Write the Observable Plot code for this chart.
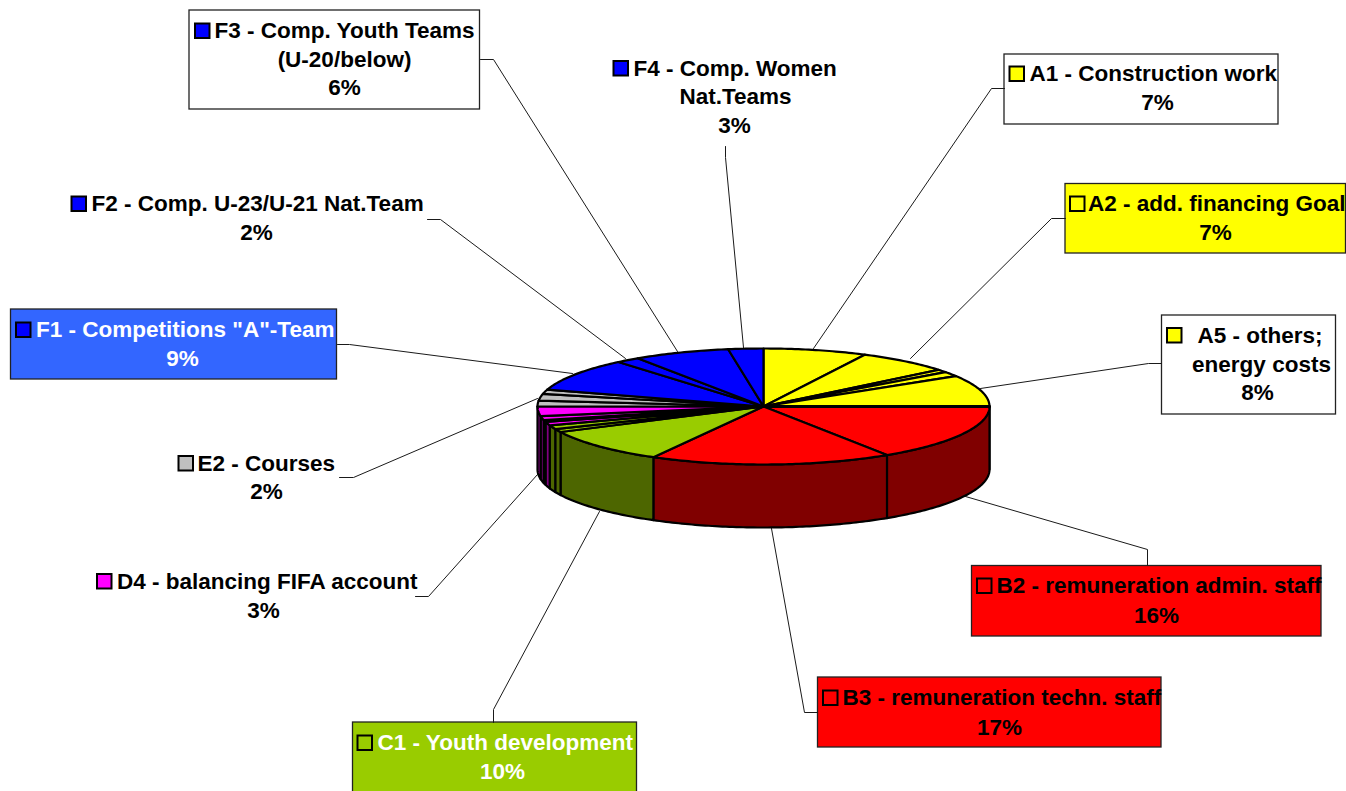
<!DOCTYPE html>
<html>
<head>
<meta charset="utf-8">
<style>html,body{margin:0;padding:0;background:#fff;overflow:hidden}svg{display:block}</style>
<script src="https://cdn.jsdelivr.net/npm/d3@7"></script>
<script src="https://cdn.jsdelivr.net/npm/@observablehq/plot@0.6"></script>
</head>
<body>
<div id="chart"></div>
<script>
// Slices, clockwise from the top of the pie (percent of the total)
const categories = ["A1","A2","A3","A4","A5","B2","B3","C1","C2","C3","D1","D2","D3","D4","E1","E2","E3","F1","F2","F3","F4"];
const shares     = [7.4,6.7,0.8,1.3,8.8,15.8,17.3,9.65,0.9,1.1,1.0,0.5,1.1,2.65,1.6,1.9,1.2,9.2,1.7,6.9,2.5];
const topColors  = ["#ffff00","#ffff00","#ffff00","#ffff00","#ffff00","#ff0000","#ff0000","#99cc00","#99cc00","#99cc00","#ff00ff","#ff00ff","#ff00ff","#ff00ff","#c0c0c0","#c0c0c0","#c0c0c0","#0000ff","#0000ff","#0000ff","#0000ff"];
const sideColors = ["#808000","#808000","#808000","#808000","#808000","#800000","#800000","#4d6600","#4d6600","#4d6600","#800080","#800080","#800080","#800080","#606060","#606060","#606060","#000080","#000080","#000080","#000080"];

// Pie projection
const pie = {cx: 763, cy: 406, rx: 226, ry: 58, depth: 63};
const rimX = t => pie.cx + pie.rx * Math.sin(t * 2 * Math.PI / 100);
const rimY = t => pie.cy - pie.ry * Math.cos(t * 2 * Math.PI / 100);

const topRows = [], sideRows = [];
let cum = 0;
categories.forEach((name, i) => {
  const a = cum, b = cum + shares[i];
  cum = b;
  const arc = [];
  const n = Math.max(2, Math.ceil((b - a) * 4));
  for (let k = 0; k <= n; ++k) arc.push(a + (b - a) * k / n);
  const fill = topColors[i];
  topRows.push({name, x: pie.cx, y: pie.cy, fill});
  arc.forEach(t => topRows.push({name, x: rimX(t), y: rimY(t), fill}));
  topRows.push({name, x: pie.cx, y: pie.cy, fill});
  const s = Math.max(a, 25), e = Math.min(b, 75);
  if (e > s) {
    const wall = [];
    const m = Math.max(2, Math.ceil((e - s) * 4));
    for (let k = 0; k <= m; ++k) wall.push(s + (e - s) * k / m);
    const side = sideColors[i];
    wall.forEach(t => sideRows.push({name, x: rimX(t), y: rimY(t), fill: side}));
    wall.slice().reverse().forEach(t => sideRows.push({name, x: rimX(t), y: rimY(t) + pie.depth, fill: side}));
    sideRows.push({name, x: rimX(s), y: rimY(s), fill: side});
  }
});
// The yellow/red seam is drawn heavier in the reference
const seamRows = [{x: pie.cx, y: pie.cy}, {x: rimX(25), y: rimY(25)}];

// Label frames
const boxes = [
  {x1:189,  y1:10,  x2:479.5, y2:109, fill:"#ffffff"},
  {x1:10.5, y1:309, x2:336.5, y2:379, fill:"#3366ff"},
  {x1:1004, y1:54,  x2:1278,  y2:124, fill:"#ffffff"},
  {x1:1065, y1:183.5,x2:1345.5,y2:253, fill:"#ffff00"},
  {x1:1161.5,y1:315,x2:1335.5,y2:414, fill:"#ffffff"},
  {x1:971.5,y1:565.5,x2:1321, y2:636, fill:"#ff0000"},
  {x1:817.5,y1:677, x2:1161,  y2:747, fill:"#ff0000"},
  {x1:352.5,y1:722, x2:636.5, y2:800, fill:"#99cc00"}
];
// Legend keys
const keys = [
  {x:195, y:23.5,  fill:"#0000ff"},
  {x:71.5,y:196.5, fill:"#0000ff"},
  {x:16,  y:322.5, fill:"#0000ff"},
  {x:613.5,y:61,   fill:"#0000ff"},
  {x:1009.5,y:66.5,fill:"#ffff00"},
  {x:1070,y:196.5, fill:"#ffff00"},
  {x:1167,y:328,   fill:"#ffff00"},
  {x:977,y:578.5,  fill:"#ff0000"},
  {x:823,y:690.5,  fill:"#ff0000"},
  {x:357.5,y:735.5,fill:"#99cc00"},
  {x:97,y:574,     fill:"#ff00ff"},
  {x:178.5,y:456,  fill:"#c0c0c0"}
];
// Text lines
const startLines = [
  {t:"F3 - Comp. Youth Teams", x:214, y:30},
  {t:"F2 - Comp. U-23/U-21 Nat.Team", x:91, y:203},
  {t:"F1 - Competitions \"A\"-Team", x:35.5, y:329, c:"#ffffff"},
  {t:"F4 - Comp. Women", x:633, y:68},
  {t:"A1 - Construction work", x:1029, y:73},
  {t:"A2 - add. financing Goal", x:1087.5, y:203},
  {t:"A5 - others;", x:1197, y:335},
  {t:"B2 - remuneration admin. staff", x:996, y:585},
  {t:"B3 - remuneration techn. staff", x:842, y:697},
  {t:"C1 - Youth development", x:377, y:742, c:"#ffffff"},
  {t:"D4 - balancing FIFA account", x:116.5, y:581},
  {t:"E2 - Courses", x:197, y:463}
];
const middleLines = [
  {t:"(U-20/below)", x:344, y:59},
  {t:"6%", x:344, y:87},
  {t:"2%", x:256, y:232},
  {t:"9%", x:182, y:358, c:"#ffffff"},
  {t:"Nat.Teams", x:735, y:96},
  {t:"3%", x:734, y:125},
  {t:"7%", x:1157, y:102},
  {t:"7%", x:1215, y:232},
  {t:"energy costs", x:1261, y:364},
  {t:"8%", x:1257, y:392},
  {t:"16%", x:1156, y:615},
  {t:"17%", x:999, y:727},
  {t:"10%", x:502, y:771, c:"#ffffff"},
  {t:"3%", x:263, y:610},
  {t:"2%", x:266, y:491}
];
// Leader lines, box end first
const leaders = {
  F3: [[480,59],[493,59],[677,351]],
  F2: [[427,219],[440,219],[625,358]],
  F1: [[337,344],[349,344],[572,373]],
  F4: [[725,146],[725,157],[743,347]],
  A1: [[1004,88],[991,88],[813,348]],
  A2: [[1065,218],[1051,218],[910,358]],
  A5: [[1161,363],[1148,363],[980,388]],
  B2: [[1147,565],[1147,549],[965,496]],
  B3: [[817,712],[804,712],[771,528]],
  C1: [[493,722],[493,709],[599,511]],
  D4: [[415,596],[428,596],[537,474]],
  E2: [[339,477],[353,477],[537,398]]
};
const leaderRows = Object.entries(leaders).flatMap(([name, pts]) => pts.map(([x, y]) => ({name, x, y})));

const font = {fontFamily: "'Liberation Sans', Arial, sans-serif", fontSize: 22.5, fontWeight: "bold", lineAnchor: "middle"};

const chart = Plot.plot({
  width: 1346, height: 791,
  marginTop: 0, marginRight: 0, marginBottom: 0, marginLeft: 0,
  x: {domain: [0, 1346], range: [0, 1346], axis: null},
  y: {domain: [0, 791], range: [0, 791], axis: null},
  color: {type: "identity"},
  style: {background: "#ffffff"},
  marks: [
    Plot.rect(boxes, {x1:"x1", y1:"y1", x2:"x2", y2:"y2", fill:"fill", stroke:"#222222", strokeWidth:1.3}),
    Plot.line(leaderRows, {x:"x", y:"y", z:"name", stroke:"#1a1a1a", strokeWidth:1, curve:"linear"}),
    Plot.line(sideRows, {x:"x", y:"y", z:"name", fill:"fill", stroke:"#000000", strokeWidth:2.2, curve:"linear", strokeLinejoin:"round"}),
    Plot.line(topRows, {x:"x", y:"y", z:"name", fill:"fill", stroke:"#000000", strokeWidth:2.2, curve:"linear", strokeLinejoin:"round"}),
    Plot.line(seamRows, {x:"x", y:"y", stroke:"#000000", strokeWidth:3.2, curve:"linear"}),
    Plot.rect(keys, {x1:"x", y1:"y", x2:d => d.x + 14.5, y2:d => d.y + 14.5, fill:"fill", stroke:"#000000", strokeWidth:2}),
    Plot.text(startLines, {x:"x", y:"y", text:"t", fill:d => d.c ?? "#000000", textAnchor:"start", ...font}),
    Plot.text(middleLines, {x:"x", y:"y", text:"t", fill:d => d.c ?? "#000000", textAnchor:"middle", ...font})
  ]
});
document.getElementById("chart").append(chart);
</script>
</body>
</html>
